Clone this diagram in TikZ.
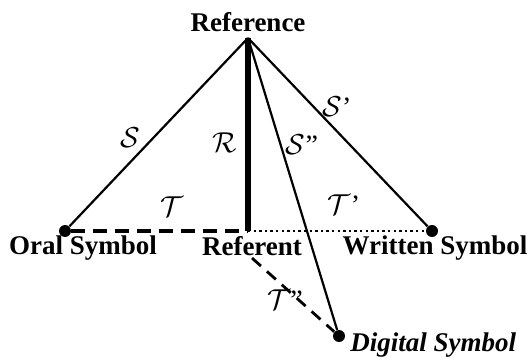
\documentclass[tikz,border=0pt]{standalone}
\usepackage{fontspec}
\setmainfont{Liberation Serif}
\usetikzlibrary{positioning}

\begin{document}
\begin{tikzpicture}[
  x=0.5pt, y=-0.5pt,
  lbl/.style={font=\fontsize{13.5}{15}\selectfont\bfseries, inner sep=1pt},
  cal/.style={font=\fontsize{14}{16}\selectfont, inner sep=1pt},
  dot/.style={circle, fill=black, inner sep=0pt, minimum size=6pt},
  edge/.style={line width=1.1pt},
]
  \useasboundingbox (0,0) rectangle (531,358);

  \coordinate (top) at (248,38);
  \coordinate (rfnt) at (248,231);
  \node[dot] (oral) at (65,231) {};
  \node[dot] (writ) at (432,231) {};
  \node[dot] (dig) at (339,336) {};

  \node[lbl] (toplbl) at (248,22) {Reference};
  \node[lbl] (orallbl) at (83,248) {Oral Symbol};
  \node[lbl] (rfntlbl) at (252,246) {Referent};
  \node[lbl] (writlbl) at (435,248) {Written Symbol};
  \node[lbl, font=\fontsize{13.5}{15}\selectfont\bfseries\itshape, anchor=west]
    (diglbl) at (348,345) {Digital Symbol};

  \draw[edge] (top) -- (oral);
  \draw[edge] (top) -- (writ);
  \draw[edge] (top) -- (dig);
  \draw[line width=2.6pt] (top) -- (rfnt);

  \draw[line width=1.6pt, dash pattern=on 7pt off 4pt] (oral) -- (rfnt);
  \draw[line width=1.2pt, dash pattern=on 1.2pt off 1.6pt] (rfnt) -- (writ);
  \draw[line width=1.4pt, dash pattern=on 6pt off 4pt] (rfntlbl.south) -- (dig);

  \node[cal] (s) at (130,138) {$\mathcal{S}$};
  \node[cal] (r) at (225,143) {$\mathcal{R}$};
  \node[cal] (s2) at (302,145) {$\mathcal{S}$”};
  \node[cal] (s1) at (337,107) {$\mathcal{S}$’};
  \node[cal] (t) at (172,207) {$\mathcal{T}$};
  \node[cal] (t1) at (344,205) {$\mathcal{T}$’};
  \node[cal] (t2) at (285,300) {$\mathcal{T}$”};
\end{tikzpicture}
\end{document}
